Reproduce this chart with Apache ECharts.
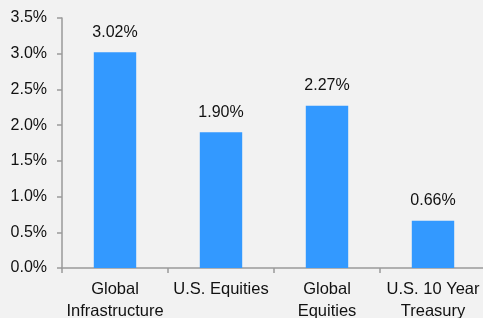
<!DOCTYPE html>
<html><head><meta charset="utf-8">
<script src="https://cdn.jsdelivr.net/npm/echarts@6/dist/echarts.min.js"></script>
<style>html,body{margin:0;padding:0;background:#f2f2f2;}#c{width:483px;height:318px;}</style>
</head><body><div id="c"></div>
<script>
var categories = ["Global\nInfrastructure", "U.S. Equities", "Global\nEquities", "U.S. 10 Year\nTreasury"];
var values = [3.02, 1.90, 2.27, 0.66];
var yMin = 0, yMax = 3.5, yStep = 0.5;

var FONT = 'Liberation Sans, Arial, sans-serif';
var chart = echarts.init(document.getElementById('c'));
chart.setOption({
  backgroundColor: '#f2f2f2',
  animation: false,
  grid: {left: 62, right: -3, top: 18, bottom: 50, containLabel: false, outerBoundsMode: 'none'},
  xAxis: {
    type: 'category', data: categories,
    axisLine: {lineStyle: {color: '#9a9a9a', width: 1.5}},
    axisTick: {show: true, length: 5, lineStyle: {color: '#9a9a9a', width: 1.5}},
    axisLabel: {color: '#111', fontFamily: FONT, fontSize: 16.5, lineHeight: 22, margin: 10, interval: 0}
  },
  yAxis: {
    type: 'value', min: yMin, max: yMax, interval: yStep,
    splitLine: {show: false},
    axisLine: {show: true, lineStyle: {color: '#9a9a9a', width: 1.5}},
    axisTick: {show: true, length: 5, lineStyle: {color: '#9a9a9a', width: 1.5}},
    axisLabel: {color: '#111', fontFamily: FONT, fontSize: 16, margin: 15,
      formatter: function(v){ return v.toFixed(1) + '%'; }}
  },
  series: [{
    type: 'bar', data: values, barWidth: '40%',
    itemStyle: {color: '#3399ff'},
    label: {show: true, position: 'top', distance: 12, color: '#111', fontFamily: FONT, fontSize: 16,
      formatter: function(p){ return p.value.toFixed(2) + '%'; }}
  }]
});
</script></body></html>
